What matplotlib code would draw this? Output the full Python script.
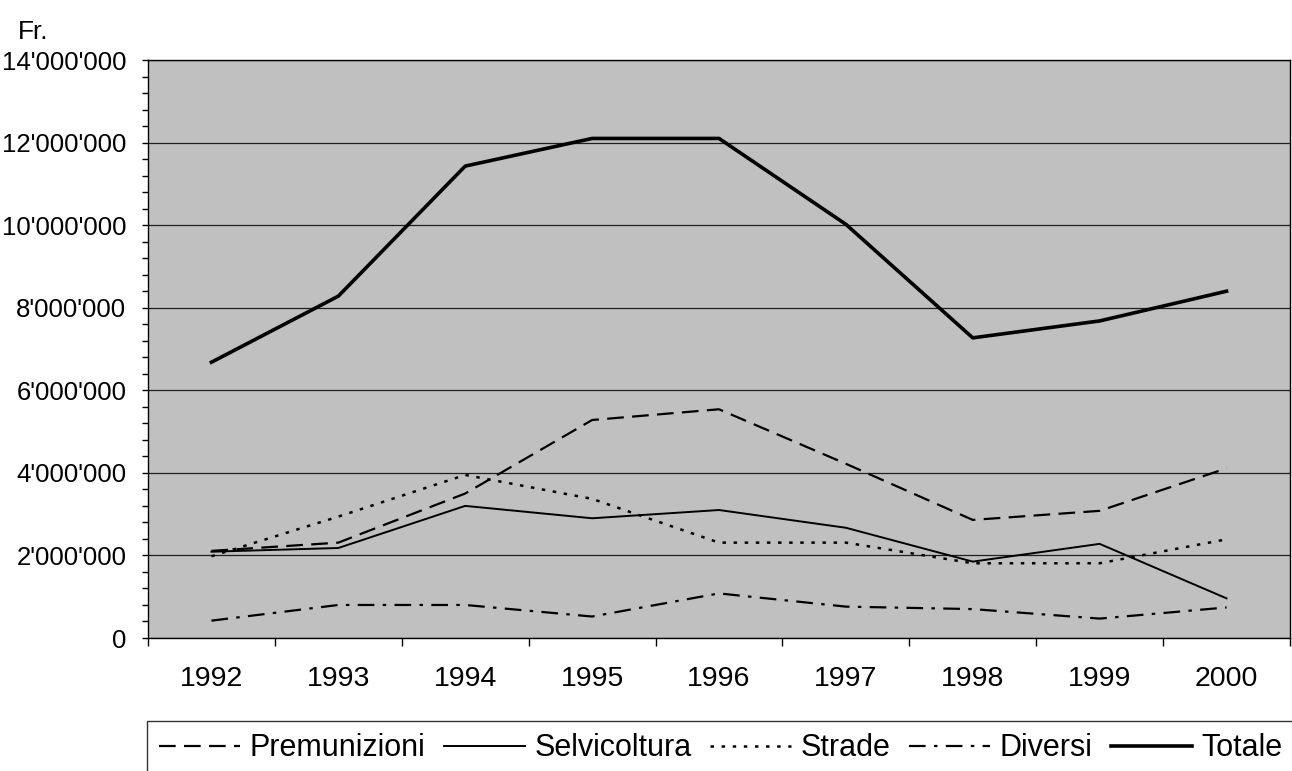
import numpy as np
import matplotlib.pyplot as plt
from matplotlib.ticker import MultipleLocator, FuncFormatter, FixedLocator

plt.rcParams['font.family'] = ['Liberation Sans', 'DejaVu Sans']
plt.rcParams['lines.scale_dashes'] = False

# data (Fr.)
years = ["1992", "1993", "1994", "1995", "1996", "1997", "1998", "1999", "2000"]
premunizioni = [2110000, 2310000, 3500000, 5280000, 5540000, 4220000, 2860000, 3080000, 4110000]
selvicoltura = [2090000, 2180000, 3200000, 2900000, 3100000, 2670000, 1850000, 2280000, 960000]
strade = [1980000, 2940000, 3950000, 3370000, 2310000, 2310000, 1810000, 1810000, 2390000]
diversi = [420000, 800000, 800000, 520000, 1080000, 760000, 700000, 470000, 740000]
totale = [6680000, 8280000, 11430000, 12100000, 12100000, 10020000, 7270000, 7680000, 8400000]

W, H = 1292, 771
fig = plt.figure(figsize=(W / 100, H / 100), dpi=100)
ax = fig.add_axes([148 / W, 1 - 638 / H, (1290 - 148) / W, (638 - 60) / H])
ax.set_facecolor('#c0c0c0')

x = np.arange(len(years))
ax.plot(x, premunizioni, color='black', lw=1.6, dashes=(12, 6), label='Premunizioni')
ax.plot(x, selvicoltura, color='black', lw=1.4, label='Selvicoltura')
ax.plot(x, strade, color='black', lw=1.8, dashes=(2.5, 5.5), label='Strade')
ax.plot(x, diversi, color='black', lw=1.6, dashes=(12, 6, 2.5, 6), label='Diversi')
ax.plot(x, totale, color='black', lw=2.6, label='Totale')

ax.set_xlim(-0.5, len(years) - 0.5)
ax.set_ylim(0, 14000000)

# y axis
ax.yaxis.set_major_locator(MultipleLocator(2000000))
ax.yaxis.set_minor_locator(MultipleLocator(400000))
ax.yaxis.set_major_formatter(FuncFormatter(lambda v, p: f"{int(v):,}".replace(",", "'")))
ax.tick_params(axis='y', which='both', direction='out', length=4.5, width=1, pad=11,
               labelsize=18.5)
ax.grid(axis='y', which='major', color='#202020', lw=0.9)

# x axis: ticks at category borders, labels at centres
ax.xaxis.set_major_locator(FixedLocator(np.arange(-0.5, len(years), 1.0)))
ax.xaxis.set_major_formatter(FuncFormatter(lambda v, p: ""))
ax.xaxis.set_minor_locator(FixedLocator(x))
ax.set_xticks(x, years, minor=True)
ax.tick_params(axis='x', which='major', direction='out', length=6, width=1)
ax.tick_params(axis='x', which='minor', length=0, pad=20.5, labelsize=20.5)

for s in ax.spines.values():
    s.set_color('black')
    s.set_linewidth(1)

fig.text(18 / W, 1 - 32 / H, "Fr.", fontsize=19, va='center', ha='left')

leg = fig.legend(loc='upper left', bbox_to_anchor=(147 / W, 1 - 721 / H), ncol=5,
                 fontsize=22, frameon=True, fancybox=False, edgecolor='black',
                 handlelength=2.65, handletextpad=0.3, columnspacing=0.62,
                 borderpad=0.4, borderaxespad=0)
leg.get_frame().set_linewidth(1)
leg.get_frame().set_facecolor('white')

fig.savefig('out.png', dpi=100)
